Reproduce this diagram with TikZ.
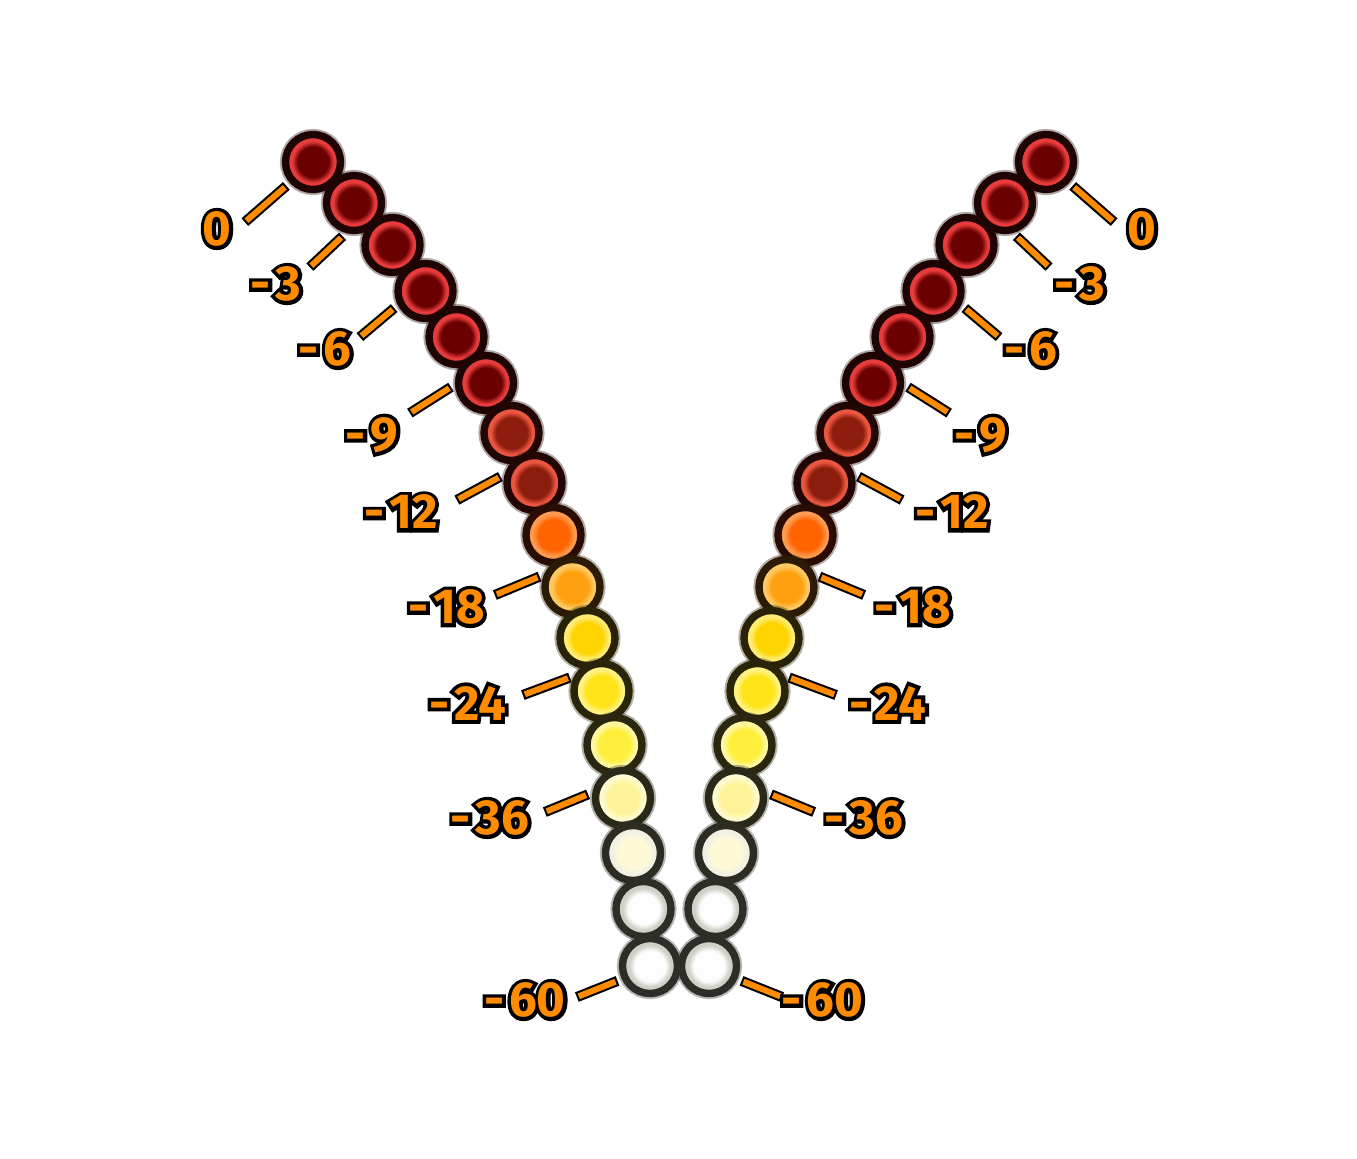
\documentclass[tikz,border=0pt]{standalone}
\usepackage{fontspec}
\usepackage{tikz}
\usetikzlibrary{positioning}
\newfontfamily\lblfont{Fira Sans}
\newfontfamily\lbloutline{Fira Sans}[BoldFeatures={FakeBold=15}]

\definecolor{lblorange}{HTML}{FF8C00}
% bead tones: core / rim / ring
\definecolor{t0main}{HTML}{6B0000}\definecolor{t0rim}{HTML}{E83C3C}\definecolor{t0ring}{HTML}{1F0404}
\definecolor{t1main}{HTML}{8C1C0C}\definecolor{t1rim}{HTML}{EA5640}\definecolor{t1ring}{HTML}{220604}
\definecolor{t3main}{HTML}{FF6400}\definecolor{t3rim}{HTML}{FF9A50}\definecolor{t3ring}{HTML}{2A0C02}
\definecolor{t4main}{HTML}{FFA010}\definecolor{t4rim}{HTML}{FFC860}\definecolor{t4ring}{HTML}{2B1A04}
\definecolor{t5main}{HTML}{FFD400}\definecolor{t5rim}{HTML}{FFEC70}\definecolor{t5ring}{HTML}{2A2206}
\definecolor{t6main}{HTML}{FFE41A}\definecolor{t6rim}{HTML}{FFF280}\definecolor{t6ring}{HTML}{2A2408}
\definecolor{t7main}{HTML}{FFEE3C}\definecolor{t7rim}{HTML}{FFF8A0}\definecolor{t7ring}{HTML}{2A2610}
\definecolor{t8main}{HTML}{FFF39A}\definecolor{t8rim}{HTML}{FFFAD0}\definecolor{t8ring}{HTML}{2A2818}
\definecolor{t9main}{HTML}{FFF9D8}\definecolor{t9rim}{HTML}{F0F0E4}\definecolor{t9ring}{HTML}{2C2C22}
\definecolor{t10main}{HTML}{FDFDFD}\definecolor{t10rim}{HTML}{CFCFC6}\definecolor{t10ring}{HTML}{2E2E28}

\colorlet{beadmain}{white}
\colorlet{beadrim}{white}
\pgfdeclareradialshading[beadmain,beadrim]{beadglow}{\pgfpointorigin}{color(0bp)=(beadmain); color(14bp)=(beadmain); color(19bp)=(beadrim); color(25bp)=(beadrim); color(50bp)=(beadrim)}

% black stroked copy under the orange text
\newcommand{\lvltext}[1]{\ooalign{\hfil{\color{black}\lbloutline #1}\hfil\cr
  \hfil{\color{lblorange}\lblfont #1}\hfil\cr}}

\tikzset{
  bead/.style = {circle, inner sep=0pt, minimum size=1.1cm, line width=4.2pt,
    draw=#1ring, /utils/exec={\colorlet{beadmain}{#1main}\colorlet{beadrim}{#1rim}},
    shade, shading=beadglow,
    preaction={draw=#1ring, line width=6.4pt, opacity=.35}},
  tick/.style = {draw=lblorange, line width=3.4pt, line cap=rect,
    shorten <=2.8pt, shorten >=5.5pt,
    preaction={draw=black, line width=5.8pt, line cap=rect}},
  lvl/.style = {inner sep=0pt, font=\lblfont\bfseries\fontsize{28}{30}\selectfont}
}

\begin{document}
\begin{tikzpicture}[x=0.02cm, y=-0.02cm]
\path[use as bounding box, fill=white] (0,0) rectangle (1357,1159);
\begin{scope}[shift={(679.5,0)}]
% the two bead chains
\foreach \i/\dx/\y/\tone in {0/366.5/162/t0, 1/325.5/203/t0, 2/287/245/t0,
    3/254/291/t0, 4/223/337/t0, 5/193.5/383/t0, 6/168/433/t1, 7/145/483/t1,
    8/126/535/t3, 9/107/587/t4, 10/92/638/t5, 11/78/691/t6, 12/65/745/t7,
    13/56.5/798/t8, 14/46.5/853/t9, 15/36/909/t10, 16/29.5/966/t10}{
  \node[bead=\tone] (bL\i) at (-\dx,\y) {};
  \node[bead=\tone] (bR\i) at (\dx,\y) {};
}
% level ticks and labels
\foreach \lab/\b/\ang/\tx/\ty/\lxl/\lxr/\ly in {
    0/0/222/434.5/222/462.5/462.5/229,
    {-\kern.1em3}/1/255/369.5/267/403.5/400.5/284,
    {-\kern.1em6}/3/207/319.5/337/354.5/351/349,
    {-\kern.1em9}/5/183/269.5/413/307.5/301/435,
    {-\kern.1em12}/7/164/222.5/500/278.5/272.5/512,
    {-\kern.1em18}/9/157/184.5/595/233/233.5/607,
    {-\kern.1em24}/11/151/156.5/695/212/208.5/703,
    {-\kern.1em36}/13/170/134.5/812/189.5/184.5/818,
    {-\kern.1em60}/16/205/102.5/997/154.5/143/1000}{
  \pgfmathtruncatemacro\angr{mod(540-\ang,360)}
  \coordinate (tL\b) at (-\tx,\ty);
  \coordinate (tR\b) at (\tx,\ty);
  \draw[tick] (tL\b) -- (bL\b.\ang);
  \draw[tick] (tR\b) -- (bR\b.\angr);
  \node[lvl] (lL\b) at (-\lxl,\ly) {\lvltext{\lab}};
  \node[lvl] (lR\b) at (\lxr,\ly) {\lvltext{\lab}};
}
\end{scope}
\end{tikzpicture}
\end{document}
